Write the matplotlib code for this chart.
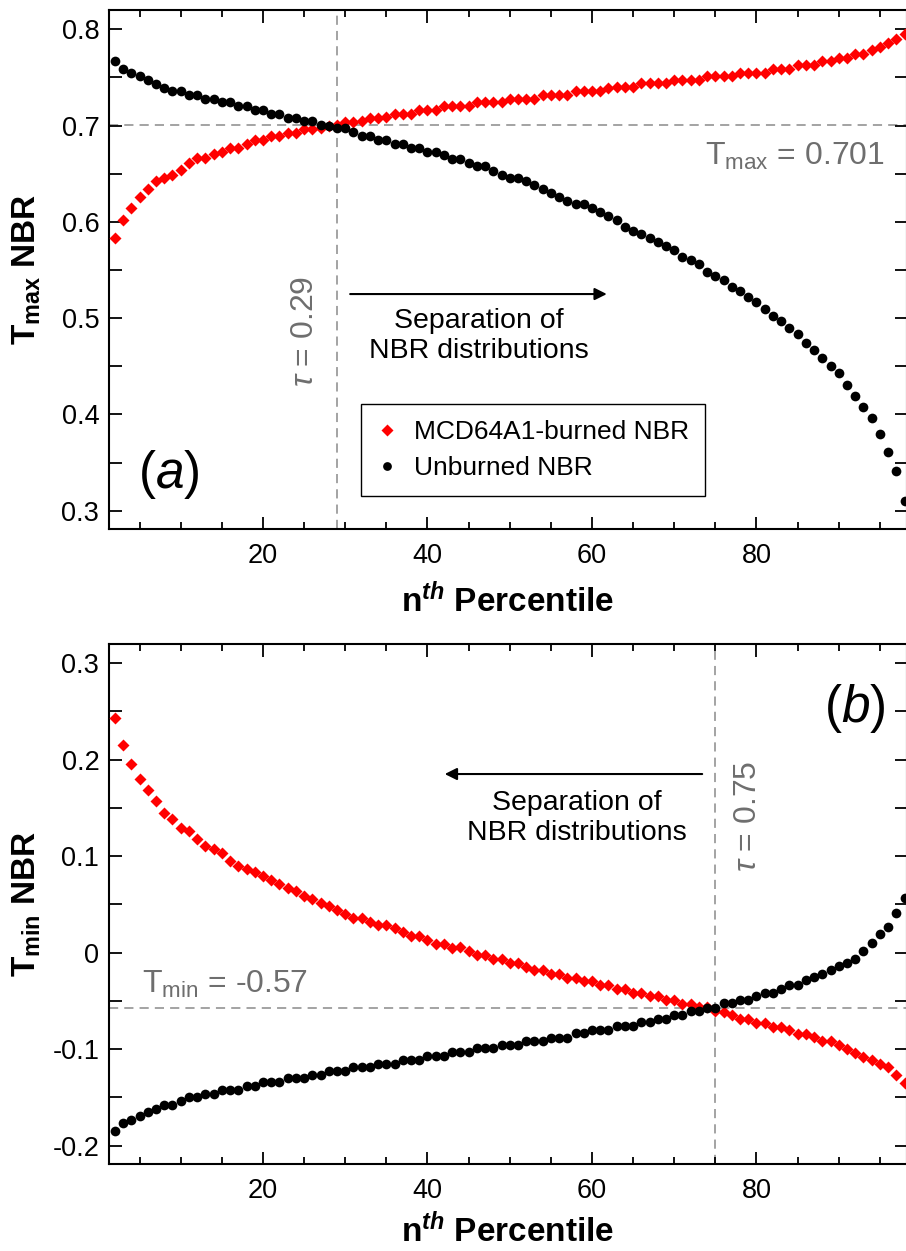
import matplotlib
matplotlib.use('Agg')
import matplotlib.pyplot as plt
from matplotlib.ticker import MultipleLocator, FuncFormatter

# ---------------------------- Fonts ---------------------------- #
plt.rcParams['font.family'] = ['Liberation Sans', 'DejaVu Sans']
plt.rcParams['mathtext.fontset'] = 'custom'
plt.rcParams['mathtext.rm'] = 'Liberation Sans'
plt.rcParams['mathtext.it'] = 'Liberation Sans:italic'
plt.rcParams['mathtext.bf'] = 'Liberation Sans:bold'
plt.rcParams['mathtext.bfit'] = 'Liberation Sans:italic:bold'
plt.rcParams['axes.unicode_minus'] = False

# ---------------------------- Data ---------------------------- #
# percentiles 2..98
percentiles = list(range(2, 99))

# Panel (a): T_max NBR
tmax_burned = [
    0.583, 0.602, 0.614, 0.626, 0.634, 0.642, 0.646, 0.649, 0.654,
    0.661, 0.666, 0.666, 0.670, 0.673, 0.677, 0.677, 0.681, 0.685, 0.685,
    0.689, 0.689, 0.692, 0.692, 0.696, 0.696, 0.697, 0.700, 0.701, 0.704,
    0.704, 0.705, 0.708, 0.708, 0.709, 0.712, 0.712, 0.712, 0.716, 0.716,
    0.716, 0.720, 0.720, 0.720, 0.720, 0.724, 0.724, 0.724, 0.724, 0.728,
    0.728, 0.728, 0.728, 0.732, 0.732, 0.732, 0.732, 0.736, 0.736, 0.736,
    0.736, 0.739, 0.740, 0.740, 0.740, 0.744, 0.744, 0.744, 0.744, 0.747,
    0.747, 0.747, 0.747, 0.751, 0.751, 0.751, 0.751, 0.755, 0.755, 0.755,
    0.755, 0.759, 0.759, 0.759, 0.763, 0.763, 0.763, 0.767, 0.767, 0.770,
    0.770, 0.774, 0.774, 0.778, 0.782, 0.786, 0.790, 0.795,
]
tmax_unburned = [
    0.767, 0.759, 0.755, 0.751, 0.747, 0.743, 0.739, 0.736, 0.736,
    0.732, 0.732, 0.728, 0.728, 0.724, 0.724, 0.720, 0.720, 0.716, 0.716,
    0.712, 0.712, 0.708, 0.708, 0.705, 0.705, 0.701, 0.700, 0.697, 0.697,
    0.693, 0.689, 0.689, 0.685, 0.685, 0.681, 0.681, 0.677, 0.677, 0.673,
    0.673, 0.669, 0.665, 0.665, 0.661, 0.658, 0.658, 0.653, 0.649, 0.646,
    0.646, 0.642, 0.638, 0.634, 0.630, 0.626, 0.622, 0.619, 0.619, 0.614,
    0.610, 0.606, 0.602, 0.595, 0.591, 0.587, 0.583, 0.579, 0.575, 0.571,
    0.563, 0.560, 0.556, 0.548, 0.544, 0.540, 0.532, 0.528, 0.522, 0.517,
    0.509, 0.502, 0.497, 0.490, 0.483, 0.474, 0.467, 0.459, 0.450, 0.443,
    0.431, 0.419, 0.408, 0.396, 0.380, 0.361, 0.341, 0.310,
]

# Panel (b): T_min NBR
tmin_burned = [
    0.243, 0.215, 0.195, 0.180, 0.168, 0.157, 0.145, 0.138, 0.129,
    0.126, 0.118, 0.110, 0.107, 0.103, 0.095, 0.090, 0.087, 0.083, 0.079,
    0.075, 0.071, 0.067, 0.064, 0.059, 0.056, 0.051, 0.048, 0.044, 0.040,
    0.036, 0.036, 0.032, 0.029, 0.029, 0.025, 0.021, 0.017, 0.0175, 0.013,
    0.0093, 0.0093, 0.0048, 0.0055, 0.0013, -0.0028, -0.0024, -0.0069, -0.0066, -0.0105,
    -0.0105, -0.0145, -0.0176, -0.0176, -0.0217, -0.0217, -0.0259, -0.0259, -0.0293, -0.0293,
    -0.0338, -0.0338, -0.0373, -0.0373, -0.0414, -0.0414, -0.0452, -0.0452, -0.0493, -0.0493,
    -0.0528, -0.0528, -0.0562, -0.0565, -0.0604, -0.0614, -0.0648, -0.069, -0.069, -0.0728,
    -0.0728, -0.0769, -0.0769, -0.0804, -0.0845, -0.0845, -0.0879, -0.0917, -0.0917, -0.0959,
    -0.100, -0.1038, -0.1079, -0.1114, -0.1155, -0.119, -0.1269, -0.1348,
]
tmin_unburned = [
    -0.185, -0.177, -0.173, -0.169, -0.1655, -0.162, -0.158, -0.158, -0.154,
    -0.150, -0.150, -0.146, -0.146, -0.142, -0.142, -0.142, -0.138, -0.138, -0.1345,
    -0.1345, -0.1345, -0.130, -0.130, -0.130, -0.1266, -0.1266, -0.1228, -0.1228, -0.1228,
    -0.119, -0.119, -0.119, -0.115, -0.115, -0.115, -0.111, -0.111, -0.111, -0.107,
    -0.107, -0.107, -0.103, -0.103, -0.103, -0.099, -0.099, -0.099, -0.096, -0.096,
    -0.096, -0.0914, -0.0914, -0.0914, -0.088, -0.088, -0.088, -0.0838, -0.0838, -0.0804,
    -0.0804, -0.0804, -0.0762, -0.0762, -0.0762, -0.0717, -0.0717, -0.0683, -0.0683, -0.0648,
    -0.0648, -0.0607, -0.0607, -0.0569, -0.0569, -0.0527, -0.0527, -0.0493, -0.0493, -0.0452,
    -0.0414, -0.0414, -0.0372, -0.0331, -0.0331, -0.0286, -0.0252, -0.0217, -0.0176, -0.0138,
    -0.0103, -0.0062, 0.002, 0.010, 0.0196, 0.0265, 0.041, 0.057,
]

# thresholds
tau_max, thresh_max = 29, 0.701
tau_min, thresh_min = 75, -0.057

GRAY = '#6e6e6e'
DASH_GRAY = '#8a8a8a'

# ---------------------------- Helpers ---------------------------- #

def styleAxes(ax, ylim):
    ax.set_xlim(1.28, 98.3)
    ax.set_ylim(*ylim)
    ax.xaxis.set_major_locator(MultipleLocator(20))
    ax.xaxis.set_minor_locator(MultipleLocator(5))
    ax.yaxis.set_major_locator(MultipleLocator(0.1))
    ax.yaxis.set_minor_locator(MultipleLocator(0.05))
    ax.yaxis.set_major_formatter(FuncFormatter(lambda v, p: f'{round(v, 2) + 0:g}'))
    ax.tick_params(which='both', direction='in', top=True, right=True,
                   labelsize=19.5, width=1.3)
    ax.tick_params(axis='x', which='major', length=9, pad=10)
    ax.tick_params(axis='x', which='minor', length=5)
    ax.tick_params(axis='y', which='both', length=9, pad=7)
    for s in ax.spines.values():
        s.set_linewidth(1.5)


def plotSeries(ax, burned, unburned):
    ax.plot(percentiles, burned, ls='none', marker='D', ms=6.3, color='#ff0000',
            mec='none', label='MCD64A1-burned NBR', zorder=3)
    ax.plot(percentiles, unburned, ls='none', marker='o', ms=7, color='black',
            mec='none', label='Unburned NBR', zorder=3)


def arrow(ax, x0, x1, y):
    ax.annotate('', xy=(x1, y), xytext=(x0, y),
                arrowprops=dict(arrowstyle='-|>', color='black', lw=1.5,
                                mutation_scale=18, shrinkA=0, shrinkB=0))


fig = plt.figure(figsize=(9.06, 12.51), dpi=100)
W, H = 906, 1251
ax1 = fig.add_axes([109 / W, 1 - 529 / H, 798 / W, 519 / H])
ax2 = fig.add_axes([109 / W, 1 - 1164 / H, 798 / W, 520 / H])

# ---------------------------- Panel (a) ---------------------------- #
styleAxes(ax1, (0.281, 0.820))
ax1.axhline(thresh_max, color=DASH_GRAY, lw=1.1, ls=(0, (6, 4)), zorder=1)
ax1.axvline(tau_max, color=DASH_GRAY, lw=1.1, ls=(0, (6, 4)), zorder=1)
plotSeries(ax1, tmax_burned, tmax_unburned)

ax1.text(95.6, 0.6594, r'T$_{\mathrm{max}}$ = 0.701', ha='right', va='baseline',
         color=GRAY, fontsize=23)
ax1.text(25.1, 0.486, r'$\tau$ = 0.29', rotation=90, ha='center', va='center',
         color=GRAY, fontsize=23)
ax1.text(46.3, 0.481, 'Separation of\nNBR distributions', ha='center', va='center',
         fontsize=20.5, linespacing=1.2)
arrow(ax1, 30.6, 61.8, 0.525)
ax1.text(8.5, 0.338, r'($a$)', ha='center', va='center', fontsize=37)

leg = ax1.legend(loc='lower left', bbox_to_anchor=(0.3158, 0.0636), borderaxespad=0,
                 fontsize=19, frameon=True, fancybox=False, edgecolor='black',
                 framealpha=1, handlelength=0.8, handletextpad=0.6,
                 borderpad=0.6, labelspacing=0.45, markerscale=0.9)
leg.get_frame().set_linewidth(1.0)

ax1.set_ylabel(r'$\mathbf{T_{max}}$ NBR', fontsize=24, fontweight='bold')
ax1.yaxis.set_label_coords(-0.083, 0.5)
ax1.set_xlabel(r'n$^{\mathbfit{th}}$ Percentile', fontsize=24, fontweight='bold')
ax1.xaxis.set_label_coords(0.5, -0.105)

# ---------------------------- Panel (b) ---------------------------- #
styleAxes(ax2, (-0.219, 0.3197))
ax2.axhline(thresh_min, color=DASH_GRAY, lw=1.1, ls=(0, (6, 4)), zorder=1)
ax2.axvline(tau_min, color=DASH_GRAY, lw=1.1, ls=(0, (6, 4)), zorder=1)
plotSeries(ax2, tmin_burned, tmin_unburned)

ax2.text(5.25, -0.042, r'T$_{\mathrm{min}}$ = -0.57', ha='left', va='baseline',
         color=GRAY, fontsize=23)
ax2.text(79.0, 0.141, r'$\tau$ = 0.75', rotation=90, ha='center', va='center',
         color=GRAY, fontsize=23)
ax2.text(58.2, 0.139, 'Separation of\nNBR distributions', ha='center', va='center',
         fontsize=20.5, linespacing=1.2)
arrow(ax2, 73.4, 42.1, 0.185)
ax2.text(92.0, 0.2526, r'($b$)', ha='center', va='center', fontsize=37)

ax2.set_ylabel(r'$\mathbf{T_{min}}$ NBR', fontsize=24, fontweight='bold')
ax2.yaxis.set_label_coords(-0.083, 0.5)
ax2.set_xlabel(r'n$^{\mathbfit{th}}$ Percentile', fontsize=24, fontweight='bold')
# keep the bottom label inside the figure edge
ax2.xaxis.set_label_coords(0.5, -0.094)

plt.savefig('out.png', dpi=100)
